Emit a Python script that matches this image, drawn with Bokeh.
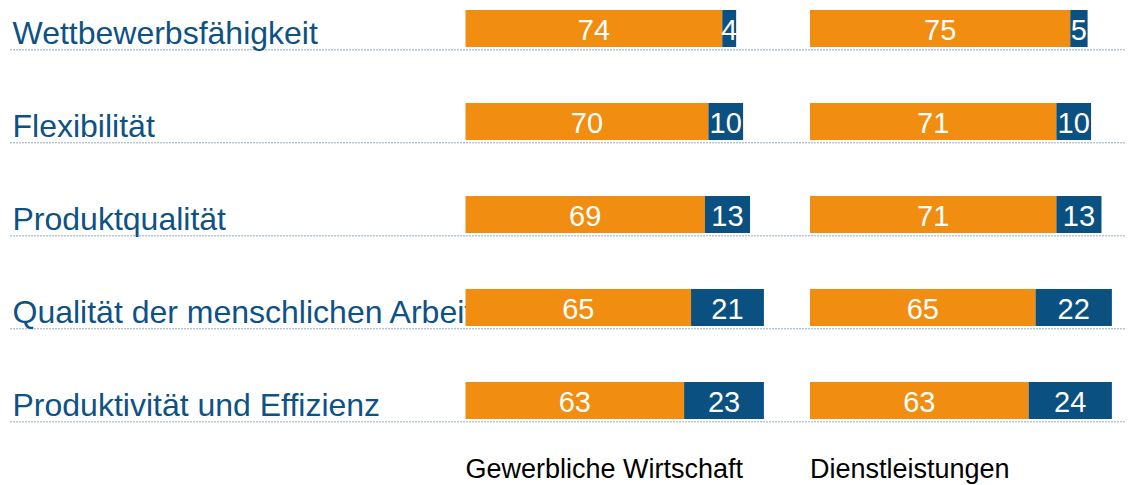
from bokeh.plotting import figure
from bokeh.models import Range1d, ColumnDataSource
from bokeh.core.properties import value
from bokeh.embed import file_html
from bokeh.resources import INLINE

# ---- data ----
categories = ["Wettbewerbsfähigkeit", "Flexibilität", "Produktqualität",
              "Qualität der menschlichen Arbeit", "Produktivität und Effizienz"]
panels = ["Gewerbliche Wirtschaft", "Dienstleistungen"]
gew_orange = [74, 70, 69, 65, 63]
gew_blue = [4, 10, 13, 21, 23]
dl_orange = [75, 71, 71, 65, 63]
dl_blue = [5, 10, 13, 22, 24]

# ---- layout constants ----
W, H = 1128, 485
PX = 3.47            # pixels per unit
X0 = 465             # px of first panel origin
ROW = 93             # pixels per row
Y0 = 28              # px of first row centre
panel_offsets = [0.0, (809.5 - X0) / PX]

ORANGE = "#F18D10"
BLUE = "#0A5080"
LABEL_BLUE = "#0E5285"
DOT = "#2F5A88"
FONT = value("Liberation Sans")

p = figure(width=W, height=H, output_backend="svg", toolbar_location=None,
           x_range=Range1d(-X0 / PX, (W - X0) / PX),
           y_range=Range1d((H - Y0) / ROW, -Y0 / ROW),
           min_border=0, outline_line_color=None, x_axis_type=None, y_axis_type=None)
p.grid.visible = False
p.background_fill_color = "white"
p.border_fill_color = "white"

rows = list(range(len(categories)))

# dotted separators
p.segment(x0=[(10 - X0) / PX] * len(rows), x1=[(1125 - X0) / PX] * len(rows),
          y0=[r + 21.3 / ROW for r in rows], y1=[r + 21.3 / ROW for r in rows],
          line_color=DOT, line_width=1, line_dash="1 2")

# category labels (drawn before bars so bars overlap)
p.text(x=[(12 - X0) / PX] * len(rows), y=[r + 4.3 / ROW for r in rows], text=categories,
       text_font=FONT, text_font_size="32px", text_color=LABEL_BLUE,
       text_align="left", text_baseline="middle")

for off, oranges, blues in [(panel_offsets[0], gew_orange, gew_blue),
                            (panel_offsets[1], dl_orange, dl_blue)]:
    src = ColumnDataSource(dict(
        y=rows,
        o_left=[off] * len(rows),
        o_right=[off + v for v in oranges],
        b_right=[off + v + b for v, b in zip(oranges, blues)],
        o_mid=[off + v / 2 for v in oranges],
        b_mid=[off + v + b / 2 for v, b in zip(oranges, blues)],
        o_txt=[str(v) for v in oranges],
        b_txt=[str(b) for b in blues],
        ty=[r + 1.6 / ROW for r in rows],
    ))
    p.hbar(y="y", left="o_left", right="o_right", height=37 / ROW, source=src,
           fill_color=ORANGE, line_color=None)
    p.hbar(y="y", left="o_right", right="b_right", height=37 / ROW, source=src,
           fill_color=BLUE, line_color=None)
    p.text(x="o_mid", y="ty", text="o_txt", source=src, text_font=FONT,
           text_font_size="29px", text_color="white", text_align="center",
           text_baseline="middle")
    p.text(x="b_mid", y="ty", text="b_txt", source=src, text_font=FONT,
           text_font_size="29px", text_color="white", text_align="center",
           text_baseline="middle")

# panel labels at bottom
p.text(x=panel_offsets, y=[(468.5 - Y0) / ROW] * 2, text=panels,
       text_font=FONT, text_font_size="27px", text_color="black",
       text_align="left", text_baseline="middle")

open("out.html", "w").write(file_html(p, INLINE))
